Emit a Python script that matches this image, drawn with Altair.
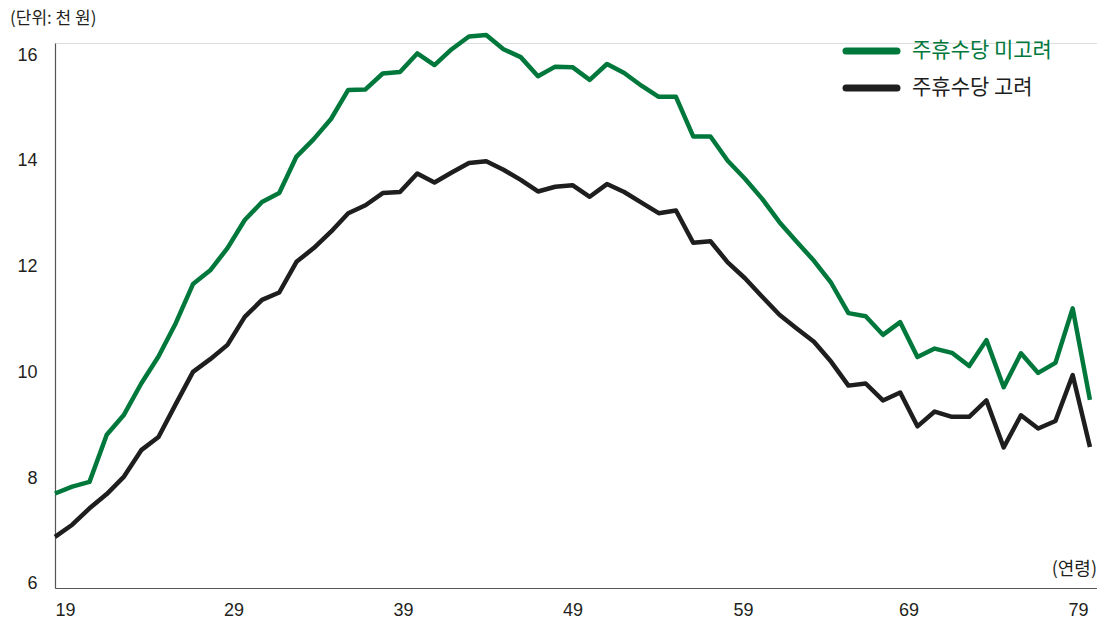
import altair as alt
import pandas as pd

# ---- data ----
ages = list(range(19, 80))
series_names = ["주휴수당 미고려", "주휴수당 고려"]
series_colors = ["#00783c", "#1e1e1e"]

wage_without = [
    7.71, 7.84, 7.93, 8.82, 9.20, 9.79, 10.30, 10.93, 11.67, 11.93,
    12.35, 12.88, 13.22, 13.39, 14.08, 14.41, 14.79, 15.34, 15.35, 15.65,
    15.68, 16.03, 15.81, 16.11, 16.35, 16.38, 16.11, 15.96, 15.60, 15.78,
    15.77, 15.53, 15.83, 15.66, 15.42, 15.21, 15.21, 14.46, 14.46, 14.00,
    13.66, 13.28, 12.84, 12.47, 12.11, 11.69, 11.12, 11.06, 10.71, 10.95,
    10.29, 10.45, 10.37, 10.12, 10.61, 9.72, 10.36, 9.99, 10.18, 11.21,
    9.48,
]
wage_with = [
    6.89, 7.12, 7.43, 7.70, 8.03, 8.53, 8.78, 9.40, 10.01, 10.25,
    10.52, 11.05, 11.37, 11.51, 12.09, 12.35, 12.66, 13.01, 13.16, 13.39,
    13.41, 13.76, 13.59, 13.78, 13.96, 13.99, 13.83, 13.64, 13.42, 13.51,
    13.54, 13.32, 13.56, 13.41, 13.21, 13.01, 13.06, 12.45, 12.48, 12.08,
    11.78, 11.43, 11.09, 10.83, 10.58, 10.20, 9.75, 9.79, 9.47, 9.62,
    8.98, 9.26, 9.16, 9.16, 9.47, 8.58, 9.19, 8.94, 9.08, 9.95,
    8.59,
]

x_ticks = [19, 29, 39, 49, 59, 69, 79]
x_label_shift = [10, 6, 3, 0, -2, -9, -12]   # label nudges seen in the reference
y_ticks = [6, 8, 10, 12, 14, 16]
unit_label = "(단위: 천 원)"
x_unit_label = "(연령)"

df = pd.concat([
    pd.DataFrame({"age": ages, "value": wage_without, "series": series_names[0]}),
    pd.DataFrame({"age": ages, "value": wage_with, "series": series_names[1]}),
])

W, H = 1042, 545
num_font = "Liberation Sans"
kr_font = "Noto Sans CJK KR"

x_label_offset = {
    "condition": [{"test": f"datum.value == {v}", "value": o}
                  for v, o in zip(x_ticks, x_label_shift)],
    "value": 0,
}

lines = alt.Chart(df).mark_line(strokeWidth=4.5, strokeJoin="round").encode(
    x=alt.X("age:Q",
            scale=alt.Scale(domain=[19, 79.41], nice=False, zero=False),
            axis=alt.Axis(values=x_ticks, title=None, grid=False, ticks=False,
                          tickSize=0, labelPadding=13, labelFontSize=18,
                          labelFont=num_font, labelColor="#231f20",
                          labelOffset=x_label_offset,
                          domainColor="#555555", domainWidth=1.2,
                          labelFlush=False)),
    y=alt.Y("value:Q",
            scale=alt.Scale(domain=[5.924, 16.227], nice=False, zero=False),
            axis=alt.Axis(values=y_ticks, title=None, grid=False, ticks=False,
                          tickSize=0, labelPadding=18, labelFontSize=18,
                          labelFont=num_font, labelColor="#231f20",
                          domainColor="#555555", domainWidth=1.2)),
    color=alt.Color("series:N",
                    scale=alt.Scale(domain=series_names, range=series_colors),
                    legend=None),
)

layers = [lines]

# legend (manual, matching the reference placement)
legend_rows_y = [8, 45]
for name, col, ly in zip(series_names, series_colors, legend_rows_y):
    one = pd.DataFrame({"label": [name]})
    layers.append(
        alt.Chart(one).mark_rule(strokeWidth=7, strokeCap="round", color=col).encode(
            x=alt.value(791), x2=alt.value(842), y=alt.value(ly)
        )
    )
    layers.append(
        alt.Chart(one).mark_text(align="left", baseline="middle", fontSize=21,
                                 font=kr_font, color=col).encode(
            x=alt.value(857), y=alt.value(ly), text="label:N"
        )
    )

layers.append(
    alt.Chart(pd.DataFrame({"label": [unit_label]})).mark_text(
        align="left", baseline="middle", fontSize=17, font=kr_font, color="#231f20"
    ).encode(x=alt.value(-45), y=alt.value(-24), text="label:N")
)
layers.append(
    alt.Chart(pd.DataFrame({"label": [x_unit_label]})).mark_text(
        align="right", baseline="middle", fontSize=18, font=kr_font, color="#231f20"
    ).encode(x=alt.value(1042), y=alt.value(527), text="label:N")
)

chart = alt.layer(*layers).properties(
    width=W, height=H,
    padding={"left": 47, "top": 35, "right": 0, "bottom": 30},
    autosize=alt.AutoSizeParams(type="none"),
).configure_view(stroke=None).configure(background="white")

chart.save("out.html", embed_options={"renderer": "svg", "actions": False})
